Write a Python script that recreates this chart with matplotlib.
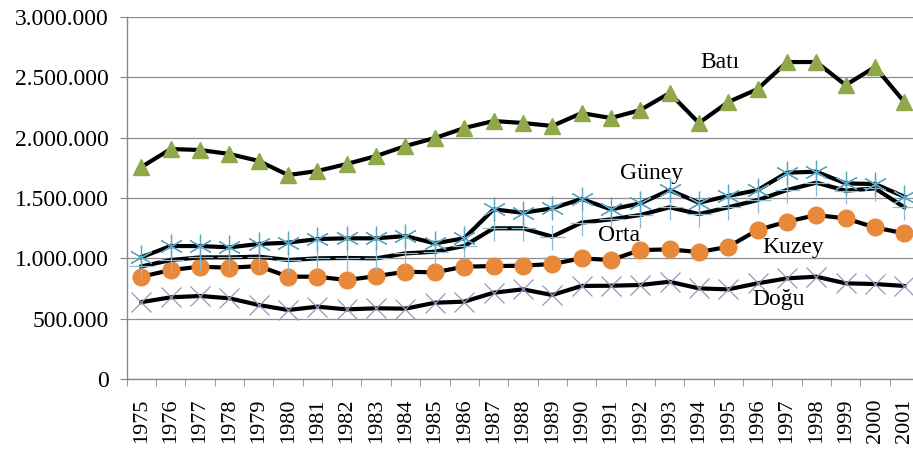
import matplotlib
matplotlib.use('Agg')
import matplotlib.pyplot as plt
from matplotlib.ticker import FuncFormatter, FixedLocator

years = list(range(1975, 2002))

bati = [1757, 1906, 1898, 1865, 1807, 1690, 1724, 1782, 1848, 1931, 1997, 2080, 2138,
        2122, 2097, 2204, 2163, 2229, 2370, 2122, 2296, 2403, 2627, 2627, 2436, 2586, 2296]
guney = [1010, 1102, 1102, 1091, 1119, 1130, 1160, 1166, 1166, 1185, 1124, 1166, 1406,
         1378, 1414, 1492, 1406, 1455, 1566, 1461, 1517, 1566, 1710, 1718, 1621, 1616, 1511]
orta = [933, 986, 1008, 1008, 1014, 986, 1000, 1003, 1000, 1041, 1055, 1102, 1249,
        1249, 1180, 1296, 1323, 1359, 1423, 1367, 1423, 1483, 1566, 1627, 1561, 1580, 1423]
kuzey = [848, 903, 931, 922, 936, 848, 848, 820, 853, 889, 884, 931, 936,
         939, 953, 1000, 986, 1069, 1074, 1052, 1096, 1235, 1304, 1359, 1331, 1256, 1207]
dogu = [637, 677, 688, 669, 613, 572, 599, 577, 586, 583, 632, 641, 715,
        743, 696, 771, 773, 779, 806, 751, 743, 793, 834, 848, 793, 787, 771]

# values above are in thousands
series = [
    ('Doğu', dogu, dict(marker='x', ms=14, mec='#9C93B8', mew=0.9)),
    ('Kuzey', kuzey, dict(marker='o', ms=12, mfc='#E8893A', mec='#E8893A')),
    ('Orta', orta, dict(marker='+', ms=18, mec='#8DBBD0', mew=0.9)),
    ('Güney', guney, dict(marker=(6, 2, 0), ms=17, mec='#5AA8C4', mew=0.9)),
    ('Batı', bati, dict(marker='^', ms=12, mfc='#8FA84A', mec='#8FA84A')),
]

plt.rcParams['font.family'] = ['Liberation Serif', 'DejaVu Serif']

fig = plt.figure(figsize=(9.13, 4.57), dpi=100)
ax = fig.add_axes([0.1388, 0.1707, 0.8678, 0.792])

x = list(range(len(years)))
for name, vals, style in series:
    ax.plot(x, [v * 1000 for v in vals], color='black', lw=3.0, zorder=3, **style)

labels = [('Batı', 19.73, 2627000), ('Güney', 17.37, 1707000), ('Orta', 16.28, 1193000),
          ('Kuzey', 22.22, 1094000), ('Doğu', 21.7, 655000)]
for txt, lx, ly in labels:
    ax.text(lx, ly, txt, fontsize=17, ha='center', va='center', zorder=4)

ax.set_xlim(-0.5, len(years) - 0.5)
ax.set_ylim(0, 3000000)
ax.set_yticks(range(0, 3000001, 500000))
ax.yaxis.set_major_formatter(FuncFormatter(lambda v, p: f"{int(v):,}".replace(',', '.')))
ax.set_xticks(x)
ax.set_xticklabels([str(y) for y in years], rotation=90)
ax.xaxis.set_minor_locator(FixedLocator([i - 0.5 for i in range(len(years) + 1)]))
ax.tick_params(axis='x', which='major', length=0, pad=14, labelsize=16)
ax.tick_params(axis='x', which='minor', length=5, color='#888888', direction='out')
ax.tick_params(axis='y', length=5, color='#888888', pad=8, labelsize=17)

ax.grid(axis='y', color='#8C8C8C', lw=0.9)
ax.set_axisbelow(True)
for s in ['top', 'right']:
    ax.spines[s].set_visible(False)
for s in ['left', 'bottom']:
    ax.spines[s].set_color('#888888')
    ax.spines[s].set_linewidth(1.0)

fig.savefig('out.png', dpi=100)
